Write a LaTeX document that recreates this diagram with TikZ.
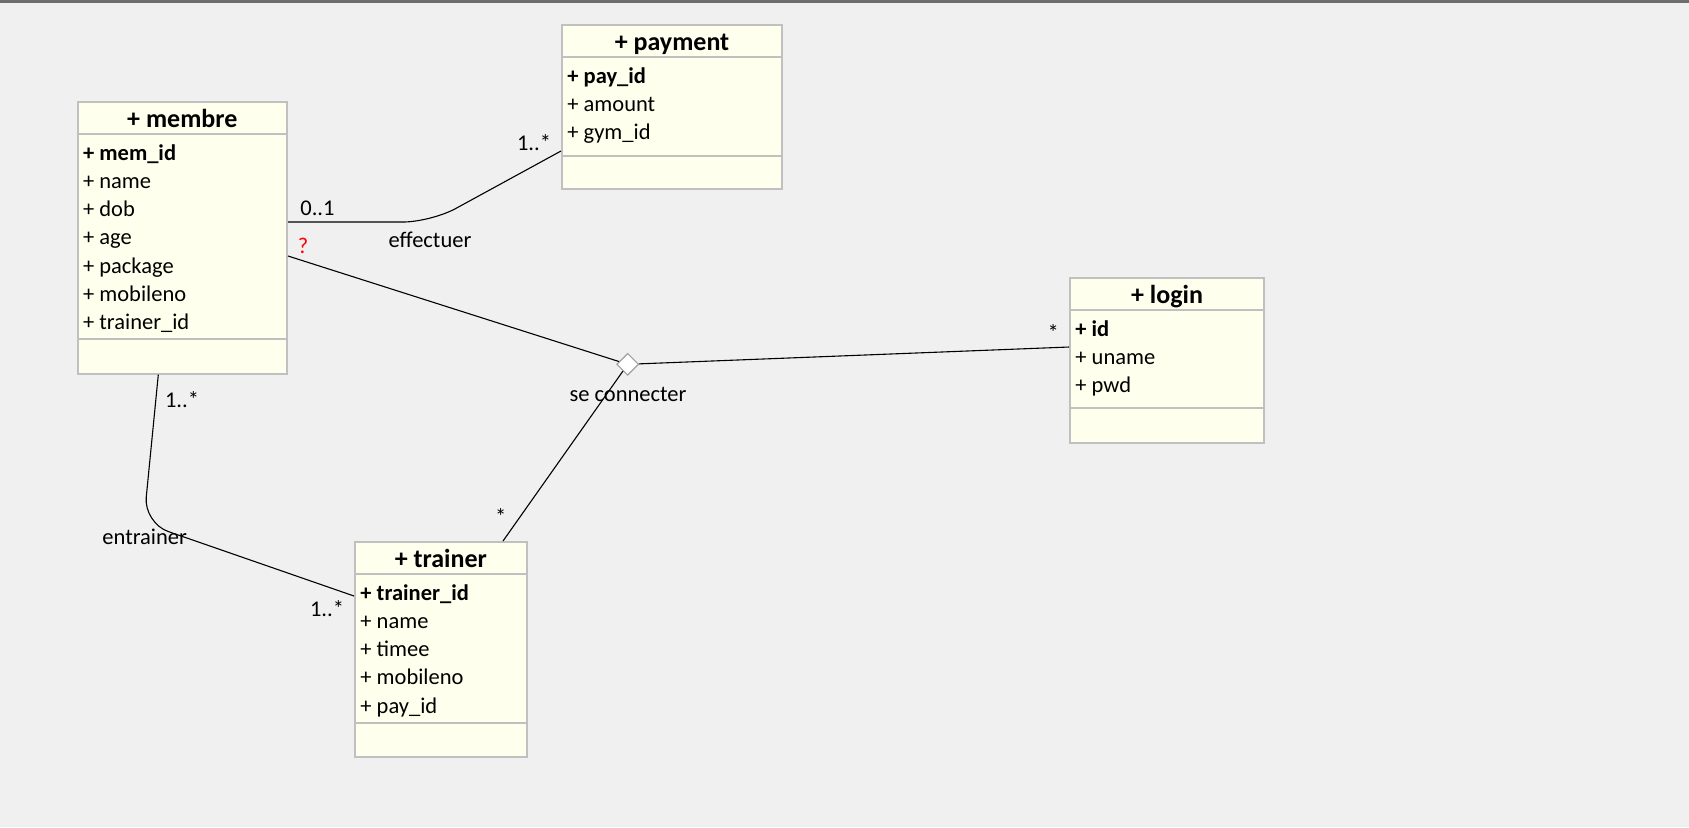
\documentclass[tikz,border=0pt]{standalone}
\usepackage{fontspec}
\setmainfont{Carlito}
\usetikzlibrary{calc,shapes.geometric}

\definecolor{canvas}{HTML}{F0F0F0}
\definecolor{boxfill}{HTML}{FFFFEE}
\definecolor{boxline}{HTML}{C0C0C0}
\definecolor{frameline}{HTML}{6E6E6E}
\definecolor{diamondline}{HTML}{A0A0A0}

\tikzset{
  classbox/.style={rectangle, draw=boxline, fill=boxfill, line width=1pt,
    inner sep=0pt, anchor=north west},
  sepline/.style={draw=boxline, line width=1pt},
  classtitle/.style={font=\fontsize{13}{15}\selectfont\bfseries, inner sep=0pt, anchor=mid},
  attr/.style={font=\fontsize{11.25}{13}\selectfont, inner sep=0pt, anchor=mid west},
  lbl/.style={font=\fontsize{11.25}{13}\selectfont, inner sep=0pt, anchor=mid},
  assoc/.style={draw=black, line width=0.55pt},
  joint/.style={diamond, draw=diamondline, fill=white, line width=0.6pt,
    minimum width=11pt, minimum height=11pt, inner sep=0pt, aspect=1},
}

% #1 name, #2 top-left corner, #3 width, #4 height,
% #5 offset of the line under the attributes, #6 title, #7 attributes
\newcommand{\umlclass}[7]{%
  \node[classbox, minimum width=#3*0.5pt, minimum height=#4*0.5pt] (#1) at (#2) {};
  \draw[sepline] ($(#1.north west)+(0,32.5)$) -- ($(#1.north east)+(0,32.5)$);
  \draw[sepline] ($(#1.north west)+(0,#5)$) -- ($(#1.north east)+(0,#5)$);
  \node[classtitle] (#1-title) at ($(#1.north)+(0,21.5)$) {#6};
  \foreach \txt [count=\i] in {#7} {
    \node[attr] (#1-a\i) at ($(#1.north west)+(6,{54.3+(\i-1)*28.3})$) {\txt};
  }%
}

\begin{document}
\begin{tikzpicture}[x=0.5pt,y=-0.5pt]
  % canvas
  \fill[canvas] (0,0) rectangle (1689,827);
  \useasboundingbox (0,0) rectangle (1689,827);
  \fill[frameline] (0,0) rectangle (1689,2.5);

  % classes
  \umlclass{membre}{76.7,101}{209.3}{271.7}{238.3}{+ membre}%
    {\textbf{+ mem\_id}, + name, + dob, + age, + package, + mobileno, + trainer\_id}
  \umlclass{payment}{561,24}{220}{164.3}{132}{+ payment}%
    {\textbf{+ pay\_id}, + amount, + gym\_id}
  \umlclass{login}{1069,277}{194}{164.7}{131.3}{+ login}%
    {\textbf{+ id}, + uname, + pwd}
  \umlclass{trainer}{354,541}{171.7}{214.7}{181.7}{+ trainer}%
    {\textbf{+ trainer\_id}, + name, + timee, + mobileno, + pay\_id}

  % association: effectuer
  \coordinate (eff-m) at ($(membre.north east)+(0,121)$);
  \coordinate (eff-p) at ($(payment.north west)+(0,127)$);
  \coordinate (eff-bend) at (431,222);
  \draw[assoc, rounded corners=14pt] (eff-m) -- (eff-bend) -- (eff-p);
  \node[lbl] (eff-mult-m) at (317.5,211) {0..1};
  \node[lbl] (eff-mult-p) at (534,145.5) {1..*};
  \node[lbl] (eff-name) at (430,243) {effectuer};
  \node[lbl, text=red] (eff-role) at (303,249) {?};

  % ternary association: se connecter
  \node[joint] (sc) at (627.7,364.3) {};
  \coordinate (sc-m) at ($(membre.north east)+(0,155)$);
  \coordinate (sc-l) at ($(login.north west)+(0,70)$);
  \coordinate (sc-t) at ($(trainer.north west)+(149,0)$);
  \draw[assoc] (sc-m) -- (sc);
  \draw[assoc] (sc) -- (sc-l);
  \draw[assoc] (sc) -- (sc-t);
  \node[lbl] (sc-name) at (628,397) {se connecter};
  \node[lbl] (sc-mult-l) at (1053.3,335.6) {*};
  \node[lbl] (sc-mult-t) at (500.7,519.6) {*};

  % association: entrainer
  \coordinate (ent-m) at ($(membre.south west)+(81.6,0)$);
  \coordinate (ent-t) at ($(trainer.north west)+(0,55)$);
  \coordinate (ent-bend) at (143.7,523);
  \draw[assoc, rounded corners=13pt] (ent-m) -- (ent-bend) -- (ent-t);
  \node[lbl] (ent-mult-m) at (182,403) {1..*};
  \node[lbl] (ent-mult-t) at (327,612) {1..*};
  \node[lbl] (ent-name) at (144.7,540) {entrainer};
\end{tikzpicture}
\end{document}
